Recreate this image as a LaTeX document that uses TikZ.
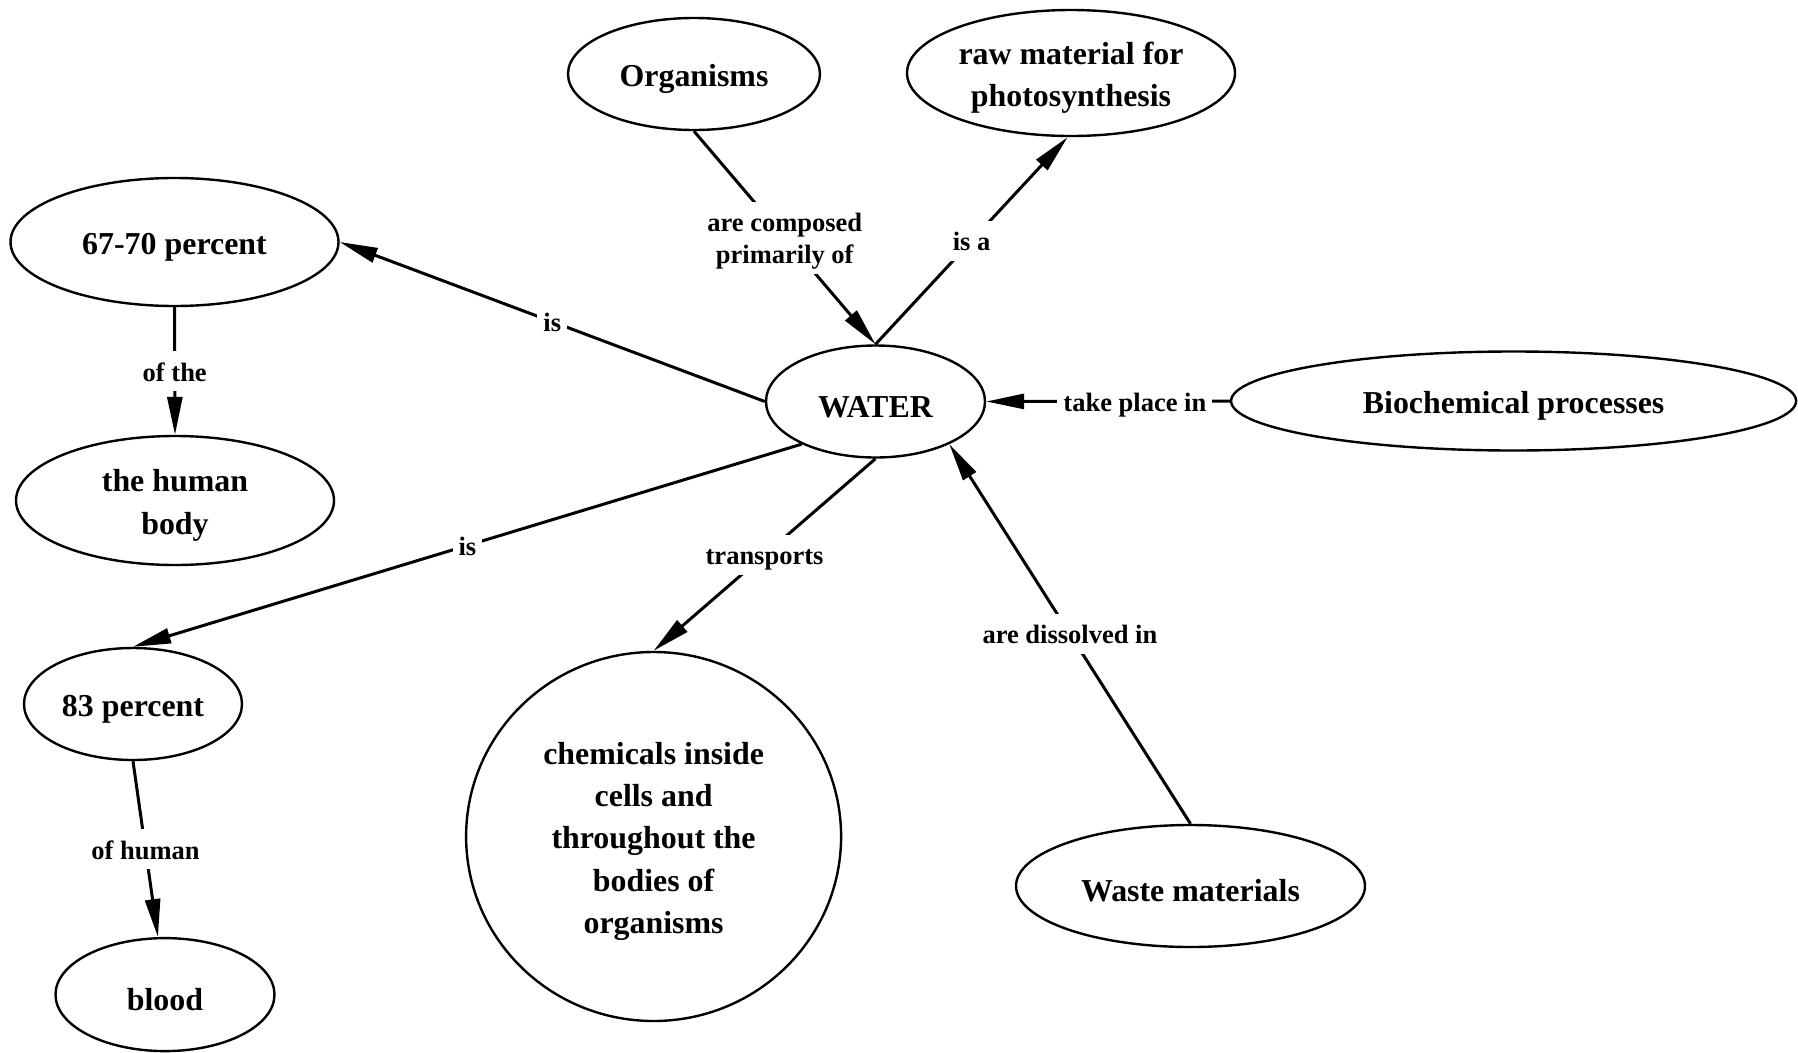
\documentclass[tikz,border=0pt]{standalone}
\usepackage{fontspec}
\setmainfont{Liberation Serif}
\usetikzlibrary{shapes.geometric,arrows.meta}

% invisible struts that set the first line's height in concepts and labels
\newcommand{\conceptstrut}{\rule{0pt}{32pt}}
\newcommand{\linkstrut}{\rule[-6pt]{0pt}{32pt}}

\begin{document}
\begin{tikzpicture}[x=1pt,y=1pt,
  concept/.style={ellipse,draw,line width=2.4pt,inner sep=0pt,align=center,
    font=\fontsize{31.9}{42.4}\selectfont\bfseries},
  link/.style={line width=3pt,-{Triangle[length=38pt,width=15pt]}},
  lbl/.style={fill=white,inner xsep=6pt,inner ysep=4pt,align=center,
    font=\fontsize{26.5}{32}\selectfont\bfseries}
]
\useasboundingbox (0,0) rectangle (1798,-1052);

% concepts
\node[concept,minimum width=219pt,minimum height=112pt] (water) at (875.5,-401.5) {\conceptstrut WATER};
\node[concept,minimum width=252pt,minimum height=112pt] (org) at (694,-74) {\conceptstrut Organisms};
\node[concept,minimum width=328pt,minimum height=126pt] (raw) at (1071,-73) {\conceptstrut raw material for\\photosynthesis};
\node[concept,minimum width=328pt,minimum height=128pt] (pctA) at (174.5,-242) {\conceptstrut 67-70 percent};
\node[concept,minimum width=318pt,minimum height=129pt] (body) at (175,-500.5) {\conceptstrut the human\\body};
\node[concept,minimum width=218pt,minimum height=112pt] (pctB) at (133,-704) {\conceptstrut 83 percent};
\node[concept,minimum width=219pt,minimum height=113pt] (blood) at (165,-994.6) {\conceptstrut blood};
\node[concept,minimum width=375pt,minimum height=369pt] (chem) at (653.6,-836.5)
  {\conceptstrut chemicals inside\\cells and\\throughout the\\bodies of\\organisms};
\node[concept,minimum width=349pt,minimum height=122pt] (waste) at (1190.5,-886) {\conceptstrut Waste materials};
\node[concept,minimum width=565pt,minimum height=99pt] (bio) at (1513.6,-401) {\conceptstrut Biochemical processes};

% links
\draw[link] (org.south) -- node[lbl]{\linkstrut are composed\\primarily of} (water.north);
\draw[link] (water.north) -- node[lbl]{\linkstrut is a} (raw.-93);
\draw[link] (water.west) -- node[lbl]{\linkstrut is} (pctA.east);
\draw[link] (pctA.south) -- node[lbl]{\linkstrut of the} (body.north);
\draw[link] (water.210) -- node[lbl]{\linkstrut is} (pctB.north);
\draw[link] (pctB.south) -- node[lbl]{\linkstrut of human} (blood.97);
\draw[link] (water.south) -- node[lbl]{\linkstrut transports} (chem.north);
\draw[link] (waste.north) -- node[lbl]{\linkstrut are dissolved in} (water.-30);
\draw[link] (bio.west) -- node[lbl,pos=0.39]{\linkstrut take place in} (water.east);
\end{tikzpicture}
\end{document}
